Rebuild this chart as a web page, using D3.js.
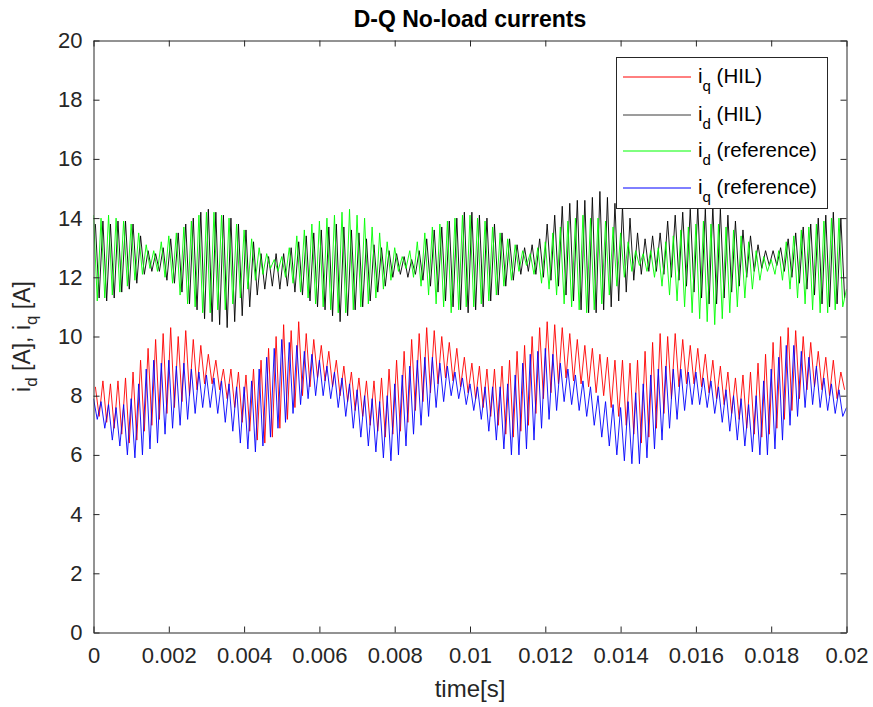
<!DOCTYPE html>
<html>
<head>
<meta charset="utf-8">
<script src="https://cdn.jsdelivr.net/npm/d3@7"></script>
<style>
  body { margin: 0; background: #fff; }
  text { font-family: "Liberation Sans", Arial, Helvetica, sans-serif; }
</style>
</head>
<body>
<svg id="chart" width="873" height="707"></svg>
<script>
// Sampling of the logged currents (seconds)
const sampleStep = 0.0001;
const refStart = 0;
const hilStart = 0.00005;

// i_q measured on the HIL rig [A]
const iqHil = [
  8.3,7.3,8.5,7.1,8.4,6.9,8.5,6.7,8.6,6.4, 8.8,6.5,9.2,6.8,9.6,7.0,9.9,7.2,10.1,7.4,
  10.3,7.6,10.0,7.8,10.2,8.0,9.9,8.2,9.7,8.4, 9.4,8.4,9.2,8.2,8.9,7.9,8.9,7.6,8.8,7.1,
  8.7,6.8,8.9,6.5,9.2,6.4,9.6,6.6,10.0,6.9, 10.4,7.2,10.2,7.6,10.5,8.0,10.1,8.3,9.9,8.6,
  9.7,8.5,9.5,8.3,9.2,8.0,9.0,7.8,8.8,7.5, 8.6,7.3,8.5,7.0,8.5,6.8,8.6,6.6,8.9,6.7,
  9.2,6.8,9.5,7.1,9.9,7.5,10.1,7.8,10.3,8.1, 10.2,8.4,10.0,8.6,9.8,8.5,9.6,8.3,9.3,8.1,
  9.1,7.9,9.0,7.6,8.9,7.3,8.9,7.0,9.0,6.7, 9.2,6.6,9.5,6.8,9.7,7.0,10.0,7.4,10.3,7.9,
  10.5,8.1,10.4,8.4,10.3,8.6,10.1,8.5,9.9,8.4, 9.7,8.3,9.6,8.1,9.4,8.0,9.3,7.6,9.2,7.3,
  9.2,7.0,9.1,6.7,9.2,6.4,9.5,6.6,9.8,6.9, 10.1,7.4,10.0,7.9,10.1,8.3,9.9,8.4,9.7,8.4,
  9.6,8.3,9.4,8.1,9.2,7.9,9.0,7.7,8.8,7.4, 8.6,7.2,8.7,6.9,8.8,6.7,9.1,6.6,9.4,6.7,
  9.8,6.9,10.0,7.2,10.3,7.5,10.2,7.9,10.0,8.2, 9.8,8.3,9.5,8.2,9.3,8.0,9.2,7.9,8.8,8.2
];

// i_d measured on the HIL rig [A]
const idHil = [
  13.8,11.3,13.9,11.2,13.8,11.3,13.9,11.5,13.9,11.6, 13.8,11.8,13.4,12.1,12.9,12.2,12.8,12.2,13.0,11.9,
  13.3,11.8,13.5,11.5,13.8,11.1,14.0,10.9,14.2,10.6, 14.3,10.5,14.2,10.4,14.1,10.3,14.0,10.5,13.8,10.7,
  13.6,11.0,13.2,11.4,12.8,11.6,12.7,11.7,12.8,11.6, 12.8,11.7,13.0,11.5,13.2,11.4,13.4,11.2,13.5,11.0,
  13.6,10.9,13.7,10.7,13.8,10.5,13.7,10.7,13.6,10.9, 13.5,11.0,13.3,11.2,13.1,11.5,13.0,11.7,12.9,12.0,
  12.8,12.1,12.7,12.0,12.6,12.1,12.9,11.9,13.3,11.7, 13.6,11.5,13.7,11.2,13.9,11.0,14.0,10.9,14.2,10.8,
  14.2,10.9,14.1,11.0,14.0,11.2,13.8,11.4,13.5,11.7, 13.3,11.9,13.1,12.1,13.0,12.2,13.1,12.1,13.3,12.0,
  13.8,11.9,14.1,11.7,14.4,11.4,14.5,11.2,14.6,10.9, 14.6,10.8,14.7,10.8,14.9,10.9,14.7,11.0,14.5,11.2,
  14.4,11.5,14.0,11.9,13.5,12.1,13.3,12.2,13.4,12.2, 13.5,12.1,13.9,12.0,14.1,11.9,14.2,11.7,14.3,11.5,
  14.4,11.3,14.3,11.1,14.4,11.1,14.3,11.3,14.1,11.5, 13.9,11.7,13.6,12.0,13.4,12.2,13.1,12.3,12.9,12.4,
  12.9,12.4,13.0,12.2,13.3,12.0,13.5,11.8,13.7,11.6, 13.8,11.4,14.0,11.1,14.1,11.0,14.2,11.1,14.0,11.3
];

// i_d reference [A]
const idRef = [
  14.1,11.2,14.0,11.3,14.1,11.4,14.0,11.5,13.9,11.7, 13.8,11.9,13.5,12.1,13.1,12.3,12.9,12.2,13.2,12.0,
  13.4,11.8,13.5,11.4,13.7,11.1,13.9,11.0,14.1,10.8, 14.2,10.8,14.2,10.9,14.1,10.9,14.0,11.1,13.8,11.3,
  13.6,11.6,13.3,11.9,13.0,12.1,12.8,12.3,12.6,12.2, 12.7,12.0,13.0,11.8,13.4,11.5,13.6,11.3,13.8,11.1,
  13.9,11.0,14.0,10.9,14.1,10.8,14.2,10.8,14.3,10.9, 14.1,11.0,14.0,11.1,13.7,11.3,13.5,11.6,13.2,11.9,
  13.0,12.2,12.7,12.3,12.9,12.0,13.2,11.7,13.5,11.4, 13.7,11.1,13.8,11.0,13.9,10.8,14.0,10.9,14.1,11.0,
  14.1,11.0,14.0,11.1,13.9,11.2,13.7,11.4,13.5,11.7, 13.3,11.9,13.1,12.2,12.9,12.4,12.8,12.1,13.0,11.8,
  13.2,11.6,13.5,11.4,13.7,11.1,13.9,11.0,14.0,10.9, 14.1,10.8,14.0,10.9,14.0,11.1,13.9,11.4,13.7,11.7,
  13.5,12.0,13.2,12.2,12.9,12.4,12.8,12.2,12.9,12.0, 13.0,11.7,13.2,11.4,13.4,11.2,13.6,11.0,13.7,10.8,
  13.8,10.6,13.9,10.5,13.8,10.4,13.8,10.6,13.7,10.8, 13.6,11.0,13.4,11.3,13.2,11.6,12.9,11.9,12.7,12.2,
  12.6,12.1,12.9,11.9,13.2,11.6,13.4,11.3,13.6,11.1, 13.7,10.9,13.8,10.8,13.9,10.8,14.0,10.9,14.0,11.0,
  11.6
];

// i_q reference [A]
const iqRef = [
  7.9,7.2,7.8,6.9,7.7,6.5,7.6,6.3,7.7,6.0, 7.9,5.9,8.4,6.0,8.9,6.2,9.2,6.4,9.1,6.7,
  9.2,6.9,9.0,7.0,9.1,7.2,8.9,7.4,8.8,7.6, 8.7,7.6,8.6,7.4,8.5,7.1,8.4,6.8,8.3,6.4,
  8.3,6.2,8.5,6.1,8.9,6.3,9.3,6.6,9.6,6.9, 9.9,7.1,9.8,7.4,9.7,7.7,9.5,7.9,9.4,8.0,
  9.2,8.0,9.0,7.9,8.8,7.6,8.6,7.3,8.4,6.9, 8.2,6.6,8.0,6.3,7.9,6.1,7.8,5.9,8.0,5.8,
  8.4,6.0,8.7,6.3,9.0,6.7,9.2,7.0,9.3,7.3, 9.3,7.6,9.1,7.8,9.0,8.0,8.8,7.9,8.6,7.7,
  8.4,7.5,8.3,7.2,8.3,6.8,8.3,6.5,8.3,6.2, 8.4,6.0,8.7,6.0,9.1,6.2,9.4,6.5,9.5,6.9,
  9.6,7.2,9.4,7.5,9.1,7.8,8.9,7.7,8.7,7.5, 8.5,7.3,8.3,7.0,8.0,6.6,7.8,6.3,7.7,6.0,
  7.6,5.8,7.8,5.7,8.1,5.7,8.4,5.9,8.7,6.2, 8.9,6.5,9.0,6.9,8.9,7.2,8.9,7.5,8.8,7.7,
  8.8,7.7,8.6,7.6,8.5,7.4,8.3,7.1,8.2,6.8, 8.0,6.5,7.9,6.3,7.7,6.1,8.0,6.0,8.5,6.0,
  8.9,6.2,9.3,6.5,9.7,7.0,9.7,7.3,9.5,7.6, 9.3,7.7,9.0,7.6,8.6,7.5,8.4,7.4,8.2,7.3,
  7.6
];

// Axis ticks
const xTicks = [0, 0.002, 0.004, 0.006, 0.008, 0.01, 0.012, 0.014, 0.016, 0.018, 0.02];
const xTickLabels = ["0", "0.002", "0.004", "0.006", "0.008", "0.01", "0.012", "0.014", "0.016", "0.018", "0.02"];
const yTicks = [0, 2, 4, 6, 8, 10, 12, 14, 16, 18, 20];

// Plot order and legend entries
const seriesNames = ["iq (HIL)", "id (HIL)", "id (reference)", "iq (reference)"];
const seriesSub = ["q", "d", "d", "q"];
const seriesTail = [" (HIL)", " (HIL)", " (reference)", " (reference)"];
const seriesColors = ["#ff0000", "#000000", "#00ff00", "#0000ff"];
const legendColors = ["#ff0000", "#3a3a3a", "#00ff00", "#0000ff"];

const series = [
  { values: iqHil, start: hilStart },
  { values: idHil, start: hilStart },
  { values: idRef, start: refStart },
  { values: iqRef, start: refStart }
];

const svg = d3.select("#chart");
const plot = { left: 93.5, right: 846.5, top: 40.5, bottom: 632.5 };
const axisColor = "#262626";

const x = d3.scaleLinear().domain([0, 0.02]).range([plot.left, plot.right]);
const y = d3.scaleLinear().domain([0, 20]).range([plot.bottom, plot.top]);

// white plotting area
svg.append("rect")
  .attr("x", plot.left).attr("y", plot.top)
  .attr("width", plot.right - plot.left).attr("height", plot.bottom - plot.top)
  .attr("fill", "#fff");

// traces
svg.append("defs").append("clipPath").attr("id", "clip")
  .append("rect")
  .attr("x", plot.left).attr("y", plot.top)
  .attr("width", plot.right - plot.left).attr("height", plot.bottom - plot.top);

const traces = svg.append("g").attr("clip-path", "url(#clip)");
series.forEach((s, k) => {
  const line = d3.line()
    .x((d, i) => x(s.start + i * sampleStep))
    .y(d => y(d));
  traces.append("path")
    .datum(s.values)
    .attr("fill", "none")
    .attr("stroke", seriesColors[k])
    .attr("stroke-width", 0.9)
    .attr("stroke-linejoin", "round")
    .attr("d", line);
});

// axes with inward ticks, mirrored on top and right
const tickLen = 6;
const fontTick = 22;

const xAxisB = d3.axisBottom(x).tickValues(xTicks)
  .tickFormat((d, i) => xTickLabels[i])
  .tickSizeInner(-tickLen).tickSizeOuter(0).tickPadding(15);
const xAxisT = d3.axisTop(x).tickValues(xTicks).tickFormat("")
  .tickSizeInner(-tickLen).tickSizeOuter(0);
const yAxisL = d3.axisLeft(y).tickValues(yTicks)
  .tickSizeInner(-tickLen).tickSizeOuter(0).tickPadding(11);
const yAxisR = d3.axisRight(y).tickValues(yTicks).tickFormat("")
  .tickSizeInner(-tickLen).tickSizeOuter(0);

function styleAxis(g) {
  g.select(".domain").attr("stroke", axisColor).attr("stroke-width", 1);
  g.selectAll(".tick line").attr("stroke", axisColor).attr("stroke-width", 1);
  g.selectAll(".tick text")
    .attr("fill", axisColor)
    .style("font-size", fontTick + "px")
    .style("font-family", "'Liberation Sans', Arial, Helvetica, sans-serif");
}

svg.append("g").attr("transform", `translate(0,${plot.bottom})`).call(xAxisB).call(styleAxis);
svg.append("g").attr("transform", `translate(0,${plot.top})`).call(xAxisT).call(styleAxis);
svg.append("g").attr("transform", `translate(${plot.left},0)`).call(yAxisL).call(styleAxis);
svg.append("g").attr("transform", `translate(${plot.right},0)`).call(yAxisR).call(styleAxis);

// title
svg.append("text")
  .attr("x", (plot.left + plot.right) / 2).attr("y", 27)
  .attr("text-anchor", "middle")
  .attr("fill", "#000")
  .style("font-size", "23px").style("font-weight", "bold")
  .text("D-Q No-load currents");

// x label
svg.append("text")
  .attr("x", (plot.left + plot.right) / 2).attr("y", 697)
  .attr("text-anchor", "middle")
  .attr("fill", axisColor)
  .style("font-size", "24px")
  .text("time[s]");

// y label with subscripts
const yl = svg.append("text")
  .attr("transform", `translate(30,${(plot.top + plot.bottom) / 2}) rotate(-90)`)
  .attr("text-anchor", "middle")
  .attr("fill", axisColor)
  .style("font-size", "23px");
yl.append("tspan").text("i");
yl.append("tspan").attr("dy", 7).style("font-size", "17px").text("d");
yl.append("tspan").attr("dy", -7).text(" [A], i");
yl.append("tspan").attr("dy", 7).style("font-size", "17px").text("q");
yl.append("tspan").attr("dy", -7).text(" [A]");

// legend
const lg = { x: 616.5, y: 57.5, w: 211, h: 151 };
const legend = svg.append("g");
legend.append("rect")
  .attr("x", lg.x).attr("y", lg.y).attr("width", lg.w).attr("height", lg.h)
  .attr("fill", "#fff").attr("stroke", axisColor).attr("stroke-width", 1);
const rowY = [77, 115, 151, 188];
seriesNames.forEach((name, k) => {
  legend.append("line")
    .attr("x1", 623).attr("x2", 691)
    .attr("y1", rowY[k]).attr("y2", rowY[k])
    .attr("stroke", legendColors[k]).attr("stroke-width", 1);
  const t = legend.append("text")
    .attr("x", 698).attr("y", rowY[k] + 6)
    .attr("fill", "#000")
    .style("font-size", "20.5px");
  t.append("tspan").text("i");
  t.append("tspan").attr("dy", 8).style("font-size", "15px").text(seriesSub[k]);
  t.append("tspan").attr("dy", -8).text(seriesTail[k]);
});
</script>
</body>
</html>
